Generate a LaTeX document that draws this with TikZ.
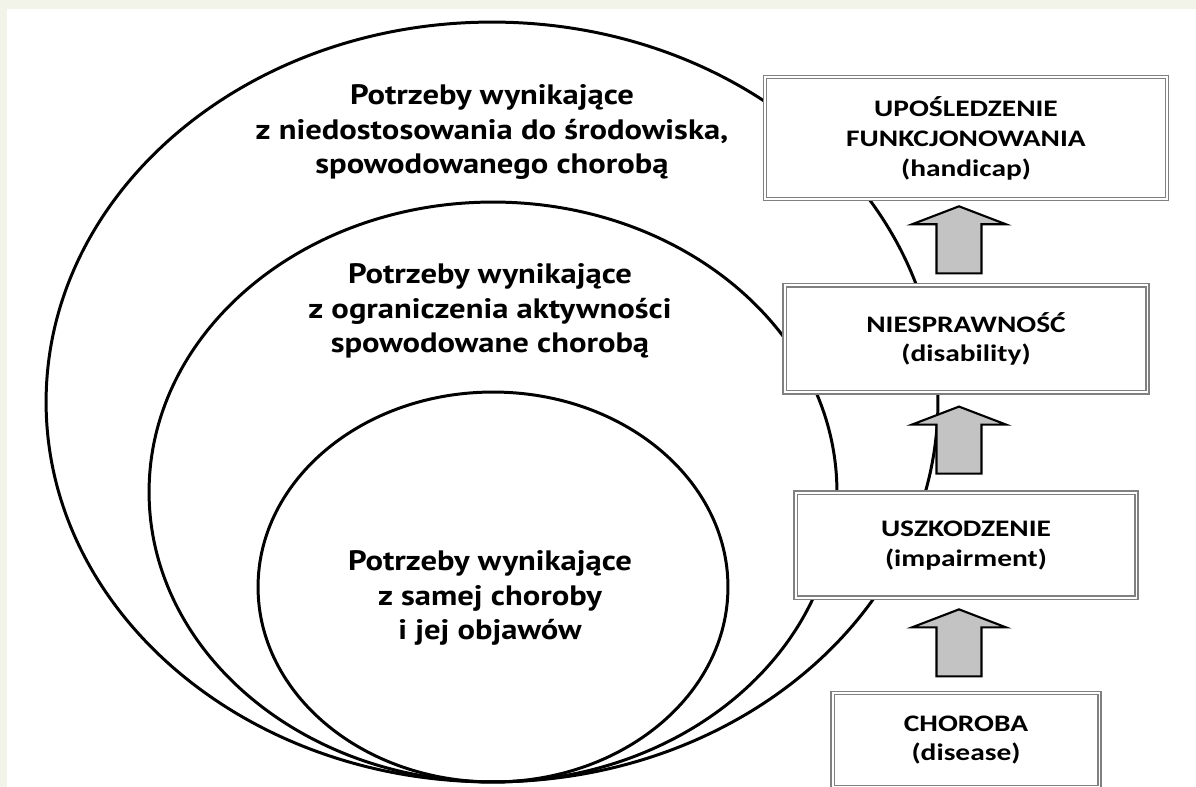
\documentclass[tikz,border=0pt]{standalone}
\usepackage{fontspec}
\newfontfamily\needfont{PT Sans}[FakeStretch=1.16]
\newfontfamily\stagefont{Carlito}[FakeStretch=1.24]
\usepackage{tikz}
\usetikzlibrary{positioning,calc}
\definecolor{pagebg}{HTML}{F2F4EA}
\definecolor{arrowgray}{HTML}{C3C3C3}

% thick grey up-arrow in the gap between two stage boxes
\newcommand{\blockup}[2]{%
  \draw[fatarrow] ($(#1.south)!0.5!(#2.north)+(-7,-36)$)
    -- ++(47,18) -- ++(-24.5,0) -- ++(0,49) -- ++(-45,0)
    -- ++(0,-49) -- ++(-24.5,0) -- cycle;}

\begin{document}
\begin{tikzpicture}[
  x=0.02cm, y=-0.02cm,
  ring/.style={draw=black, line width=1.7pt},
  need/.style={font={\needfont\bfseries\fontsize{16}{19.8}\selectfont},
    align=center, inner sep=0pt},
  stage/.style={draw=black!50, double=white, double distance=1.1pt,
    line width=0.75pt, fill=white, align=center, inner sep=2pt,
    font={\stagefont\bfseries\fontsize{13.5}{17}\selectfont}},
  fatarrow/.style={draw=black, line width=1.2pt, fill=arrowgray,
    line join=miter}
]
  \useasboundingbox (0,0) rectangle (1196,787);
  \fill[pagebg] (0,0) rectangle (1196,787);
  \fill[white] (7,9) rectangle (1196,787);

  % nested needs
  \draw[ring] (492,402) ellipse [x radius=8.92cm, y radius=7.6cm];
  \draw[ring] (493,492) ellipse [x radius=6.88cm, y radius=5.8cm];
  \draw[ring] (493,587) ellipse [x radius=4.7cm, y radius=3.9cm];

  \node[need] (envneed) at (492,132) {Potrzeby wynikające\\
    z niedostosowania do środowiska,\\spowodowanego chorobą};
  \node[need] (actneed) at (490,311) {Potrzeby wynikające\\
    z ograniczenia aktywności\\spowodowane chorobą};
  \node[need] (illneed) at (490,598) {Potrzeby wynikające\\
    z samej choroby\\i jej objawów};

  % stages
  \node[stage, minimum width=5.34cm, minimum height=1.88cm] (disease)
    at (966,740) {CHOROBA\\(disease)};
  \node[stage, minimum width=6.82cm, minimum height=2.1cm,
    above=1.88cm of disease] (impair) {USZKODZENIE\\(impairment)};
  \node[stage, minimum width=7.26cm, minimum height=2.14cm,
    above=1.98cm of impair] (disab) {NIESPRAWNOŚĆ\\(disability)};
  \node[stage, minimum width=8.04cm, minimum height=2.44cm,
    above=1.7cm of disab] (handi) {UPOŚLEDZENIE\\FUNKCJONOWANIA\\(handicap)};

  \blockup{handi}{disab}
  \blockup{disab}{impair}
  \blockup{impair}{disease}
\end{tikzpicture}
\end{document}
